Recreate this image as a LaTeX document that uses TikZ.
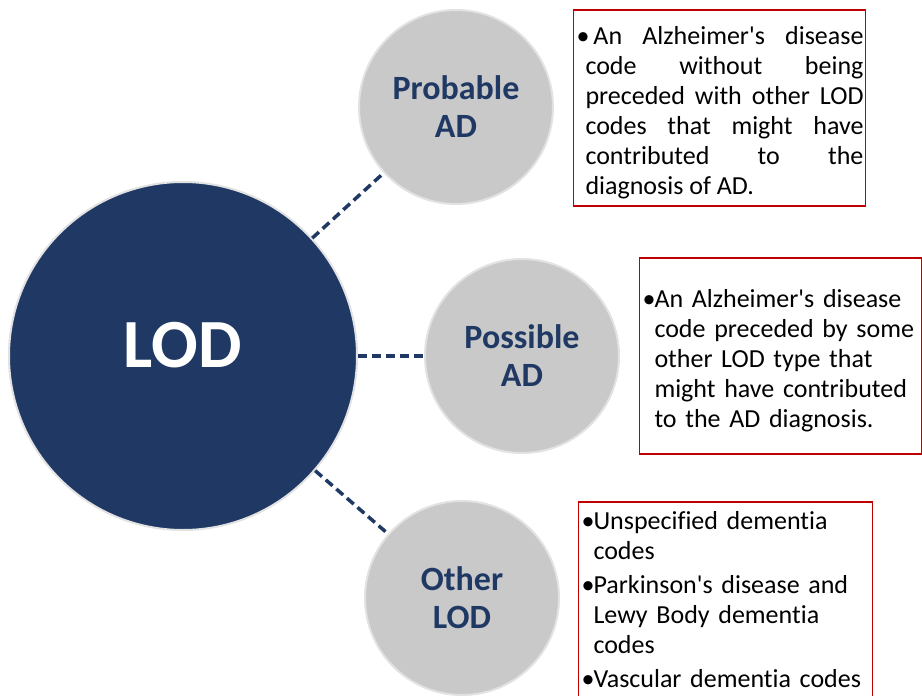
\documentclass[tikz,border=0pt]{standalone}
\usepackage{fontspec}
\setmainfont{Carlito}[Ligatures=NoCommon]

\definecolor{navy}{HTML}{1F3864}
\definecolor{discgray}{HTML}{C9C9C9}
\definecolor{rimgray}{HTML}{E2E2E2}
\definecolor{boxred}{HTML}{C00000}

\newcommand{\q}{\textquotesingle}
\newcommand{\bul}{\makebox[12pt][l]{\textbullet}}
\newcommand{\ind}{\hspace*{12pt}}
\newcommand{\topstrut}{\rule{0pt}{28pt}}
% justified line of given width
\newcommand{\jline}[2]{\makebox[#1][s]{#2}}

\tikzset{
    bigdisc/.style={circle, fill=navy, draw=rimgray, line width=2pt, minimum size=348pt,
        inner sep=0pt, text=white, text depth=22pt, font=\fontsize{69}{72}\selectfont\bfseries},
    disc/.style={circle, fill=discgray, draw=rimgray, line width=2pt, minimum size=194pt,
        inner sep=0pt, text=navy, align=center, font=\fontsize{34}{38}\selectfont\bfseries},
    link/.style={navy, line width=3.5pt, dash pattern=on 9pt off 5pt},
    notebox/.style={draw=boxred, line width=1.5pt, inner xsep=3pt, inner ysep=0pt,
        minimum height=196pt, align=left, font=\fontsize{26}{30}\selectfont}
}

\begin{document}
\begin{tikzpicture}[x=1pt, y=-1pt]
    \useasboundingbox (0,0) rectangle (922,696);

    % Main circle
    \node[bigdisc] (lod) at (183,356) {LOD};

    % Types
    \node[disc] (prob) at (456,107) {Probable\\AD};
    \node[disc] (poss) at (522,356) {Possible\\AD};
    \node[disc] (other) at (462,598) {Other\\LOD};

    % Links
    \foreach \n in {prob, poss, other} {
        \draw[link] (lod) -- (\n);
    }

    % Descriptions
    \node[notebox, text width=286pt] (note1) at (719.5,108) {%
        \spaceskip=0pt \xspaceskip=0pt
        \topstrut\makebox[17pt][l]{\textbullet}\jline{270pt}{An Alzheimer\q s disease}\\
        \hspace*{9pt}\jline{278pt}{code without being}\\
        \hspace*{9pt}\jline{278pt}{preceded with other LOD}\\
        \hspace*{9pt}\jline{278pt}{codes that might have}\\
        \hspace*{9pt}\jline{278pt}{contributed to the}\\
        \hspace*{9pt}diagnosis of AD.};
    \node[notebox, text width=276pt] (note2) at (780.5,356) {%
        \topstrut\bul An Alzheimer\q s disease\\
        \ind code preceded by some\\
        \ind other LOD type that\\
        \ind might have contributed\\
        \ind to the AD diagnosis.};
    \node[notebox, text width=288pt] (note3) at (725.5,600) {%
        \bul Unspecified dementia\\
        \ind codes\\[4pt]
        \bul Parkinson\q s disease and\\
        \ind Lewy Body dementia\\
        \ind codes\\[4pt]
        \bul Vascular dementia codes};
\end{tikzpicture}
\end{document}
